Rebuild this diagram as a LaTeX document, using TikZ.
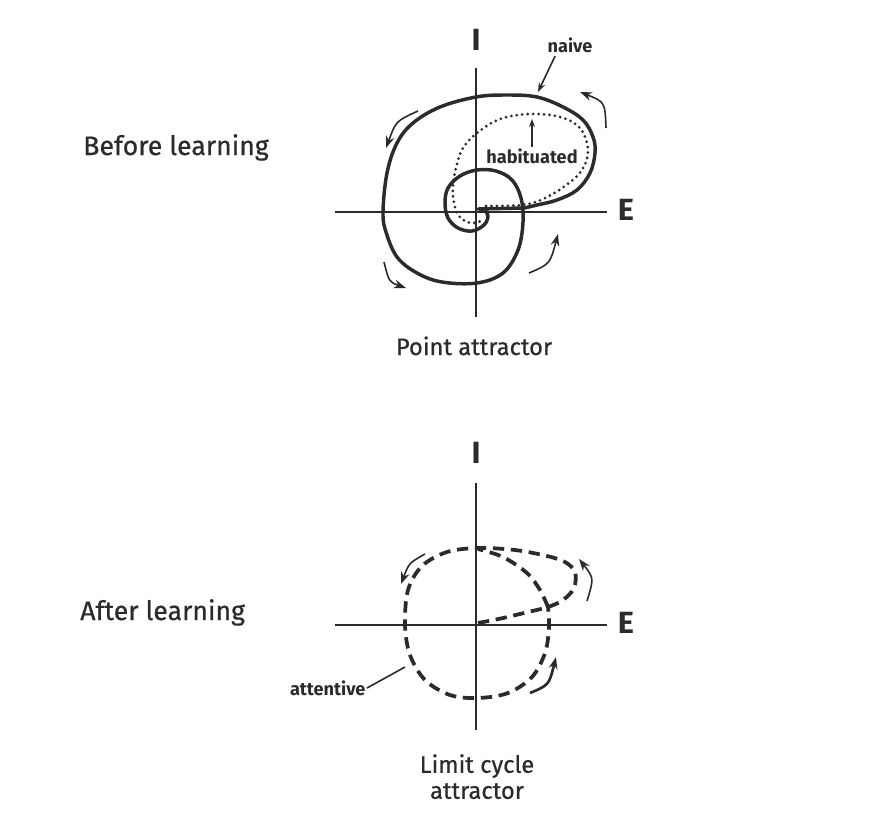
\documentclass[tikz,border=0pt]{standalone}
\usepackage{fontspec}
\setmainfont{Fira Sans}
\newfontfamily\labfont{Fira Sans}[FakeBold=0.6]
\usetikzlibrary{arrows.meta}
\definecolor{ink}{HTML}{2B2B2B}
\begin{document}
\begin{tikzpicture}[x=0.75pt,y=-0.75pt,
  axis/.style={draw=ink, line width=1.5pt},
  traj/.style={draw=ink, line width=2.6pt, line cap=round, line join=round},
  habit/.style={draw=ink, line width=2.3pt, dash pattern=on 0pt off 4.1pt, line cap=round},
  cyc/.style={draw=ink, line width=2.8pt, dash pattern=on 8.5pt off 5pt},
  motion/.style={draw=ink, line width=1.2pt, -{Stealth[length=9pt,width=6.5pt]}},
  pointer/.style={draw=ink, line width=1.2pt},
  axlabel/.style={font=\bfseries\fontsize{23}{23}\selectfont, text=ink, inner sep=0pt},
  title/.style={font=\labfont\fontsize{20}{22}\selectfont, text=ink, inner sep=0pt},
  caption/.style={font=\labfont\fontsize{17.8}{19.5}\selectfont, text=ink, align=center, inner sep=0pt},
  small/.style={font=\bfseries\fontsize{13.6}{15}\selectfont, text=ink, inner sep=1pt},
]
\useasboundingbox (0,0) rectangle (888,822);
\fill[white] (0,0) rectangle (888,822);

% ---------------- Before learning ----------------
\node[title, anchor=base west] (before) at (83,155) {Before learning};
\node[axlabel] (I1) at (476,40) {I};
\node[axlabel] (E1) at (626,210) {E};
\coordinate (o1) at (476,212);
\coordinate (v1t) at (476,68);
\coordinate (v1b) at (476,317);
\coordinate (h1l) at (335,212);
\coordinate (h1r) at (607,212);
\draw[axis] (v1t) -- (v1b);
\draw[axis] (h1l) -- (h1r);

% naive trajectory
\draw[traj] (478,209) -- (524,208)
  plot[smooth, tension=0.6] coordinates {(524,208) (537,205) (557,200) (577,190) (590,173) (595,153) (593,137) (583,120) (563,107) (537,97) (507,95) (476,97) (440,107) (413,123) (397,143) (387,173) (383,212) (386,232) (397,257) (417,273) (442,282) (477,283) (503,273) (518,250) (523,222) (521,198) (512,180) (496,171) (477,170) (460,176) (448,188) (445,203) (448,218) (458,228) (472,231) (484,225) (488,216) (484,210) (478,209)};

% habituated trajectory
\draw[habit] plot[smooth, tension=0.6] coordinates {(486,206) (522,205) (543,199) (565,186) (582,170) (588,150) (580,128) (560,117) (530,114) (500,119) (477,133) (463,148) (457,164) (453,185) (454,203) (459,216) (467,222) (474,223) (481,221)};

\node[small] (naive) at (570,45) {naive};
\coordinate (naivetip) at (538,92);
\draw[pointer, -{Stealth[length=7pt,width=5pt]}] (naive.south west) ++(9,2) -- (naivetip);

\node[small] (hab) at (532,156) {habituated};
\coordinate (habtip) at (532,119);
\draw[pointer, -{Stealth[length=6pt,width=4.5pt]}] (hab.north) -- (habtip);

\coordinate (a1s) at (606,128); \coordinate (a1e) at (580,92);
\coordinate (a2s) at (418,111); \coordinate (a2e) at (386,148);
\coordinate (a3s) at (384,262); \coordinate (a3e) at (406,288);
\coordinate (a4s) at (529,273); \coordinate (a4e) at (558,234);
\draw[motion] (a1s) .. controls (605,102) .. (a1e);
\draw[motion] (a2s) .. controls (396,121) .. (a2e);
\draw[motion] (a3s) .. controls (389,282) .. (a3e);
\draw[motion] (a4s) .. controls (550,264) .. (a4e);

\node[caption, anchor=base] (point) at (474,355) {Point attractor};

% ---------------- After learning ----------------
\node[title, anchor=base west] (after) at (80,620) {After learning};
\node[axlabel] (I2) at (476,453) {I};
\node[axlabel] (E2) at (626,623) {E};
\coordinate (o2) at (476,625);
\coordinate (v2t) at (476,483);
\coordinate (v2b) at (476,730);
\coordinate (h2l) at (335,625);
\coordinate (h2r) at (607,625);
\draw[axis] (v2t) -- (v2b);
\draw[axis] (h2l) -- (h2r);

\draw[cyc] plot[smooth, tension=0.55] coordinates {(478,623) (503,618) (528,612) (548,607) (563,600) (574,588) (575,572) (565,562) (547,556) (515,550) (478,548) (447,552) (422,566) (408,590) (405,625) (410,655) (425,680) (450,695) (478,698) (508,693) (532,677) (545,653) (549,628) (548,607)};
\draw[cyc] plot[smooth, tension=0.55] coordinates {(548,607) (540,590) (527,573) (503,557) (478,549)};

\coordinate (b1s) at (587,601); \coordinate (b1e) at (579,559);
\coordinate (b2s) at (425,554); \coordinate (b2e) at (401,584);
\coordinate (b3s) at (530,693); \coordinate (b3e) at (556,657);
\draw[motion] (b1s) .. controls (594,578) .. (b1e);
\draw[motion] (b2s) .. controls (409,563) .. (b2e);
\draw[motion, line width=2pt] (b3s) .. controls (549,685) .. (b3e);

\node[small, anchor=east] (att) at (367,688) {attentive};
\coordinate (attp) at (405,667);
\draw[pointer] (att.east) -- (attp);

\node[caption, anchor=north] (limit) at (477,754) {Limit cycle\\attractor};
\end{tikzpicture}
\end{document}
